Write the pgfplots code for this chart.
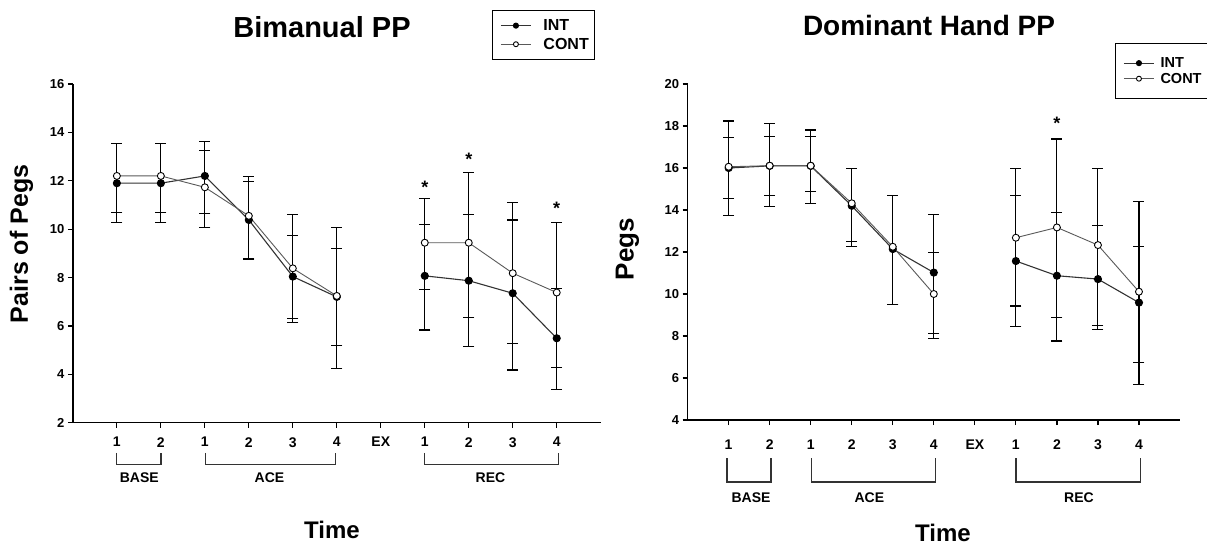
\documentclass[border=0pt]{standalone}
\usepackage{fontspec}
\setmainfont{Liberation Sans}
\usepackage{pgfplots}
\usepackage{pgfplotstable}
\pgfplotsset{compat=1.18}

% x: 1..6 = BASE1, BASE2, ACE1..ACE4 ; 8..11 = REC1..REC4 ; ep/em = error plus/minus
\pgfplotstableread{
x y ep em
1 11.90 1.63 1.62
2 11.90 1.63 1.62
3 12.20 1.42 1.56
4 10.38 1.60 1.60
5 8.04 1.68 1.72
6 7.20 2.00 2.00
}\biIntA
\pgfplotstableread{
x y ep em
8 8.07 2.13 2.24
9 7.87 2.72 2.73
10 7.35 3.03 3.17
11 5.49 2.07 2.13
}\biIntR
\pgfplotstableread{
x y ep em
1 12.20 1.35 1.50
2 12.20 1.35 1.50
3 11.73 1.53 1.67
4 10.55 1.62 1.80
5 8.38 2.21 2.23
6 7.24 2.82 3.00
}\biConA
\pgfplotstableread{
x y ep em
8 9.44 1.84 1.92
9 9.44 2.91 3.08
10 8.18 2.92 2.90
11 7.38 2.90 3.09
}\biConR

\pgfplotstableread{
x y ep em
1 16.00 1.44 1.44
2 16.10 2.03 1.94
3 16.10 1.42 1.23
4 14.20 1.79 1.95
5 12.14 2.53 2.66
6 11.02 2.78 3.12
}\dhIntA
\pgfplotstableread{
x y ep em
8 11.57 3.11 3.13
9 10.87 3.00 3.11
10 10.71 2.54 2.42
11 9.59 2.66 2.84
}\dhIntR
\pgfplotstableread{
x y ep em
1 16.06 2.18 2.33
2 16.11 1.38 1.44
3 16.11 1.70 1.79
4 14.32 1.67 1.80
5 12.25 2.42 2.77
6 10.00 1.99 1.90
}\dhConA
\pgfplotstableread{
x y ep em
8 12.68 3.31 3.25
9 13.17 4.21 4.30
10 12.33 3.66 3.81
11 10.11 4.29 4.44
}\dhConR

\pgfplotsset{
  pp/.style={
    scale only axis, clip=false,
    axis lines=left,
    axis line style={-, line width=1.5pt, black},
    xmin=0, xmax=12,
    xtick={1,...,11},
    xticklabels={1,2,1,2,3,4,EX,1,2,3,4},
    tick align=outside, major tick length=5pt,
    tick style={line width=1.2pt, black},
    /pgf/number format/assume math mode=true,
    x tick label style={font=\fontsize{14}{16}\selectfont\bfseries},
    y tick label style={font=\fontsize{13}{15}\selectfont\bfseries},
    legend cell align=left,
    legend image code/.code={
      \path (-4pt,0pt) (40pt,0pt);
      \draw[mark repeat=2, mark phase=2, #1, mark size=2.5pt]
        plot coordinates {(0pt,0pt) (15pt,0pt) (30pt,0pt)};},
  },
  eb/.style={error bars/y dir=both, error bars/y explicit,
    error bars/error bar style={line width=1.1pt, black},
    error bars/error mark options={rotate=90, line width=1.1pt, black, mark size=5.5pt}},
  int/.style={line width=1.1pt, black!80, mark=*, mark size=3.5pt,
    mark options={solid, fill=black, draw=black}},
  con/.style={line width=0.9pt, black!65, mark=*, mark size=3.5pt,
    mark options={solid, fill=white, draw=black, line width=0.9pt}},
}

\begin{document}
\begin{tikzpicture}
\path[use as bounding box] (0pt,0pt) rectangle (1207pt,-545pt);

% ---------- Bimanual PP ----------
\begin{axis}[pp,
  at={(72.9pt,-422.7pt)}, anchor=south west,
  width=527.8pt, height=338.7pt,
  ymin=2, ymax=16, ytick={2,4,...,16},
  x tick label style={yshift=-6pt},
  legend style={at={(0.794,1.2185)}, anchor=north west, draw=black,
    line width=0.8pt, fill=white, inner xsep=4pt, inner ysep=7pt,
    font=\fontsize{16}{18}\selectfont\bfseries, row sep=2pt},
]
\addplot[int, eb] table[x=x, y=y, y error plus=ep, y error minus=em] {\biIntA};
\addplot[con, eb] table[x=x, y=y, y error plus=ep, y error minus=em] {\biConA};
\addplot[forget plot, int, eb] table[x=x, y=y, y error plus=ep, y error minus=em] {\biIntR};
\addplot[forget plot, con, eb] table[x=x, y=y, y error plus=ep, y error minus=em] {\biConR};
\legend{INT, CONT}
\node[font=\fontsize{18}{18}\selectfont\bfseries, yshift=-3pt] at (axis cs:8,11.85) {*};
\node[font=\fontsize{18}{18}\selectfont\bfseries, yshift=-3pt] at (axis cs:9,13.0) {*};
\node[font=\fontsize{18}{18}\selectfont\bfseries, yshift=-3pt] at (axis cs:11,11.0) {*};
\end{axis}

% ---------- Dominant Hand PP ----------
\begin{axis}[pp,
  at={(687.6pt,-420pt)}, anchor=south west,
  width=492.4pt, height=336pt,
  ymin=4, ymax=20, ytick={4,6,...,20},
  x tick label style={yshift=-11pt},
  legend image code/.code={
    \path (-4pt,0pt) (34pt,0pt);
    \draw[mark repeat=2, mark phase=2, #1, mark size=2.5pt]
      plot coordinates {(0pt,0pt) (15pt,0pt) (30pt,0pt)};},
  legend style={at={(0.868,1.122)}, anchor=north west, draw=black,
    line width=0.8pt, fill=white, inner xsep=4pt, inner ysep=12pt,
    font=\fontsize{14.5}{16}\selectfont\bfseries, row sep=0pt},
]
\addplot[int, eb] table[x=x, y=y, y error plus=ep, y error minus=em] {\dhIntA};
\addplot[con, eb] table[x=x, y=y, y error plus=ep, y error minus=em] {\dhConA};
\addplot[forget plot, int, eb] table[x=x, y=y, y error plus=ep, y error minus=em] {\dhIntR};
\addplot[forget plot, con, eb] table[x=x, y=y, y error plus=ep, y error minus=em] {\dhConR};
\legend{INT, CONT}
\node[font=\fontsize{18}{18}\selectfont\bfseries, yshift=-3pt] at (axis cs:9,18.29) {*};
\end{axis}

% titles and labels
\node[font=\fontsize{29}{31}\selectfont\bfseries] at (322pt,-27pt) {Bimanual PP};
\node[font=\fontsize{28}{30}\selectfont\bfseries] at (929pt,-25.5pt) {Dominant Hand PP};
\node[font=\fontsize{25}{27}\selectfont\bfseries, rotate=90] at (21.5pt,-244pt) {Pairs of Pegs};
\node[font=\fontsize{26}{28}\selectfont\bfseries, rotate=90] at (627.5pt,-249pt) {Pegs};
\node[font=\fontsize{24}{26}\selectfont\bfseries] at (332pt,-530pt) {Time};
\node[font=\fontsize{24}{26}\selectfont\bfseries] at (943pt,-533pt) {Time};

% phase brackets
\begin{scope}[line width=1.1pt, black!80]
\draw (116.8pt,-452.8pt) |- (161pt,-464.8pt) -- (161pt,-452.8pt);
\draw (205.5pt,-452.8pt) |- (335.5pt,-464.8pt) -- (335.5pt,-452.8pt);
\draw (424.5pt,-452.8pt) |- (558.5pt,-464.8pt) -- (558.5pt,-452.8pt);
\draw (727pt,-458pt) |- (771pt,-482pt) -- (771pt,-458pt);
\draw (811.8pt,-458pt) |- (935.6pt,-482pt) -- (935.6pt,-458pt);
\draw (1016pt,-458pt) |- (1140.5pt,-482pt) -- (1140.5pt,-458pt);
\end{scope}
\begin{scope}[font=\fontsize{14}{16}\selectfont\bfseries]
\node at (139.3pt,-478pt) {BASE};
\node at (269.5pt,-478pt) {ACE};
\node at (490.5pt,-478pt) {REC};
\node at (751pt,-497.6pt) {BASE};
\node at (869.4pt,-497.6pt) {ACE};
\node at (1079pt,-497.6pt) {REC};
\end{scope}
\end{tikzpicture}
\end{document}
